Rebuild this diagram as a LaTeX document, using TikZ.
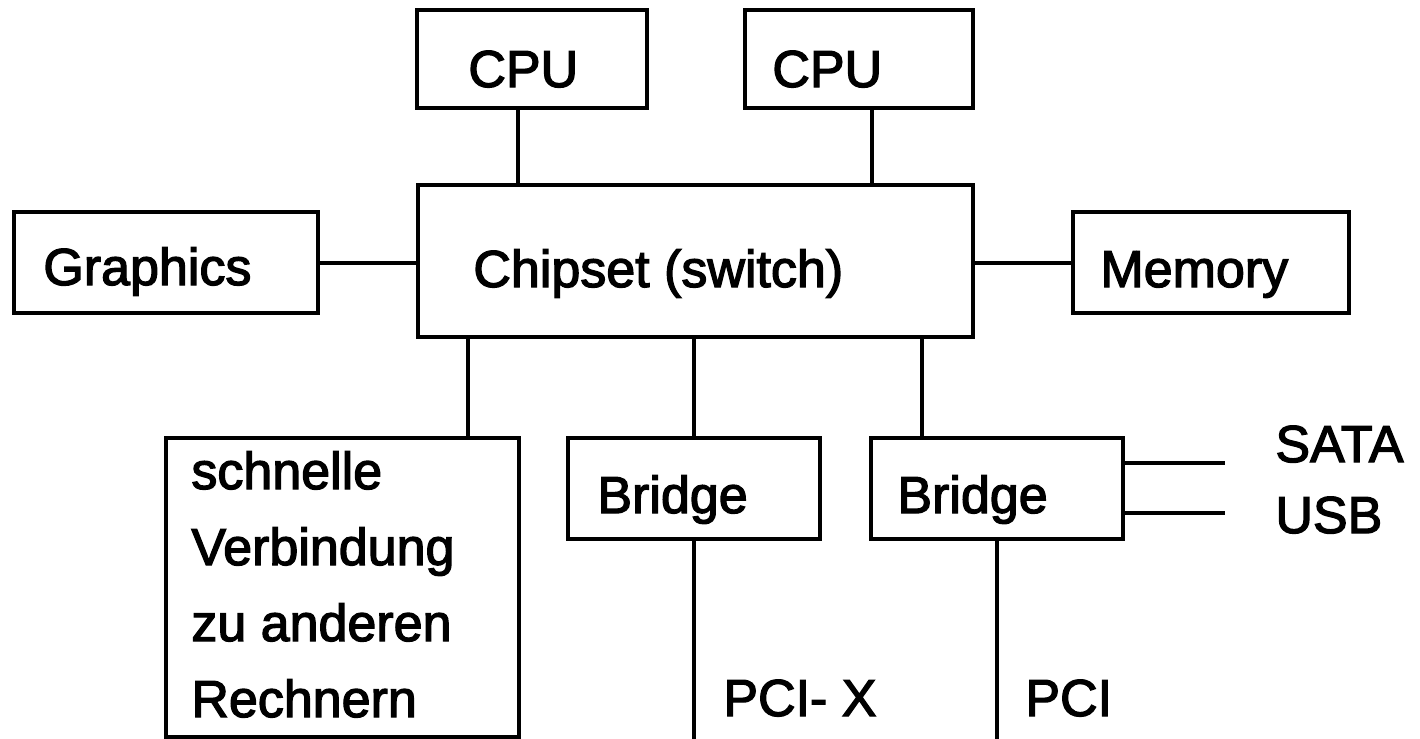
\documentclass[tikz,border=0pt]{standalone}
\usepackage{fontspec}
\setmainfont{Liberation Sans}[FakeBold=2.5]
\usepackage{tikz}
\usetikzlibrary{calc}

\begin{document}
\begin{tikzpicture}[x=0.5pt,y=-0.5pt,
    box/.style={draw, line width=2pt, inner sep=0pt},
    txt/.style={anchor=base west, inner sep=0pt, font=\fontsize{26}{38}\selectfont},
    bus/.style={line width=2pt}]
\useasboundingbox (0,0) rectangle (1420,739);

% boxes
\node[box, minimum width=115pt, minimum height=49pt] (cpua) at (532,59) {};
\node[box, minimum width=114pt, minimum height=49pt] (cpub) at (859,59) {};
\node[box, minimum width=277.5pt, minimum height=76pt] (chip) at (695.5,261) {};
\node[box, minimum width=152pt, minimum height=50.5pt] (gfx) at (166,262.5) {};
\node[box, minimum width=138pt, minimum height=50.5pt] (mem) at (1211,262.5) {};
\node[box, minimum width=176.5pt, minimum height=149.5pt] (net) at (342.5,587.5) {};
\node[box, minimum width=126pt, minimum height=50.5pt] (bra) at (694,488.5) {};
\node[box, minimum width=126pt, minimum height=50.5pt] (brb) at (997,488.5) {};

% texts
\node[txt] (cpuatxt) at (468,87) {CPU};
\node[txt] (cpubtxt) at (772,87) {CPU};
\node[txt] (gfxtxt) at (43,285) {Graphics};
\node[txt] (chiptxt) at (473,287) {Chipset (switch)};
\node[txt] (memtxt) at (1100,287) {Memory};
\node[txt, align=left] (nettxt) at (191,717) {schnelle\\Verbindung\\zu anderen\\Rechnern};
\node[txt] (bratxt) at (597,513) {Bridge};
\node[txt] (brbtxt) at (897,513) {Bridge};
\node[txt] (sata) at (1275,462) {SATA};
\node[txt] (usb) at (1275,533) {USB};
\node[txt] (pcix) at (723,716) {PCI- X};
\node[txt] (pci) at (1025,716) {PCI};

\coordinate (pcixend) at (694,739);
\coordinate (pciend) at (997,739);
\coordinate (sataend) at (1225,463);
\coordinate (usbend) at (1225,513);

% connections
\draw[bus] ([xshift=-7pt]cpua.south) -- ([xshift=-7pt]cpua.south |- chip.north);
\draw[bus] ([xshift=6.5pt]cpub.south) -- ([xshift=6.5pt]cpub.south |- chip.north);
\draw[bus] (gfx.east) -- (gfx.east -| chip.west);
\draw[bus] (mem.west) -- (mem.west -| chip.east);
\draw[bus] ([xshift=62.75pt]net.north) -- ([xshift=62.75pt]net.north |- chip.south);
\draw[bus] (bra.north) -- (bra.north |- chip.south);
\draw[bus] ([xshift=-37.5pt]brb.north) -- ([xshift=-37.5pt]brb.north |- chip.south);
\draw[bus] (bra.south) -- (bra.south |- pcixend);
\draw[bus] (brb.south) -- (brb.south |- pciend);
\draw[bus] (sataend -| brb.east) -- (sataend);
\draw[bus] (usbend -| brb.east) -- (usbend);
\end{tikzpicture}
\end{document}
